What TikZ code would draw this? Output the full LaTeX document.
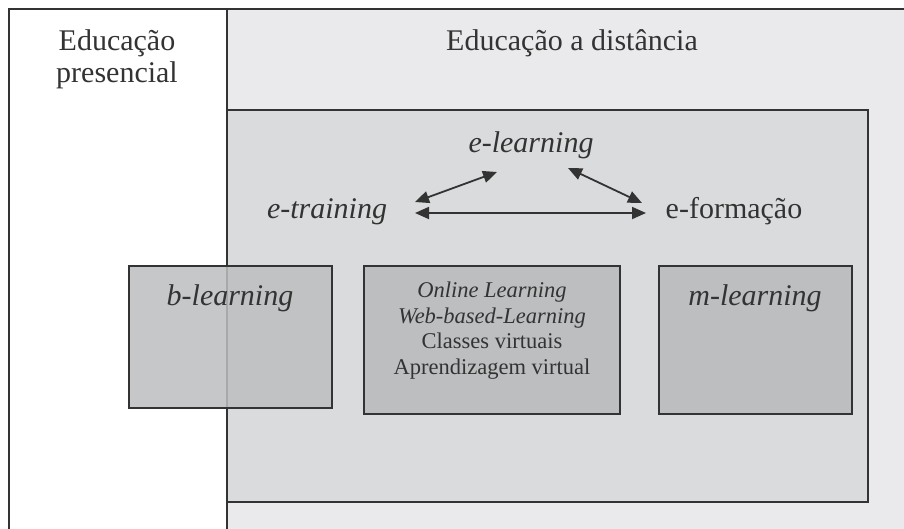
\documentclass[tikz,border=0pt]{standalone}
\usepackage{fontspec}
\setmainfont{Liberation Serif}
\usetikzlibrary{arrows.meta}
\definecolor{lightbg}{HTML}{EAEAEC}
\definecolor{midbg}{HTML}{DADBDD}
\definecolor{boxbg}{HTML}{BDBEC0}
\definecolor{ink}{HTML}{333333}
\begin{document}
\begin{tikzpicture}[x=1pt,y=-1pt,
  frame/.style={draw=ink, line width=1.8pt},
  regionbox/.style={frame, fill=midbg, inner sep=0pt},
  topicbox/.style={frame, fill=boxbg, inner sep=0pt, minimum width=201pt, minimum height=142pt},
  bigtext/.style={text=ink, font=\fontsize{30}{32}\selectfont, inner sep=0pt, anchor=base},
  smalltext/.style={text=ink, font=\fontsize{22.5}{25.5}\selectfont, inner sep=0pt, align=center},
  arr/.style={draw=ink, line width=1.8pt, {Triangle[length=14pt,width=12pt]}-{Triangle[length=14pt,width=12pt]}}
]
\useasboundingbox (0,0) rectangle (904,528);
\clip (0,0) rectangle (904,528);
\fill[white] (0,0) rectangle (904,528);
\fill[lightbg] (227,9) rectangle (912,536);
\draw[frame] (9,536) -- (9,9) -- (912,9);
\draw[frame] (227,9) -- (227,536);

\node[regionbox, minimum width=641pt, minimum height=392pt] (inner) at (547.5,306) {};

% labels of the two areas
\node[bigtext, align=center] (pres) at (117,82) {Educação\\presencial};
\node[bigtext] (dist) at (572,50) {Educação a distância};

% e-terms
\node[bigtext] (el) at (531,152) {\itshape e-learning};
\node[bigtext] (et) at (327,218) {\itshape e-training};
\node[bigtext] (ef) at (734,218) {e-formação};

\coordinate (a1) at (415,202);
\coordinate (a2) at (497,172);
\coordinate (a3) at (568,168);
\coordinate (a4) at (642,203);
\coordinate (a5) at (415,213);
\coordinate (a6) at (646,213);
\draw[arr] (a1) -- (a2);
\draw[arr] (a3) -- (a4);
\draw[arr] (a5) -- (a6);

% boxes
\node[topicbox, fill opacity=0.85, minimum width=203pt] (bl) at (230.5,337) {};
\node[topicbox, minimum width=256pt, minimum height=148pt] (ol) at (492,340) {};
\node[topicbox, minimum width=193pt, minimum height=148pt] (ml) at (755.5,340) {};

\node[bigtext] (blt) at (230,305) {\itshape b-learning};
\node[bigtext] (mlt) at (755,305) {\itshape m-learning};
\node[smalltext, anchor=base] (olt) at (492,374)
  {\itshape Online Learning\\ \itshape Web-based-Learning\\ Classes virtuais\\ Aprendizagem virtual};
\end{tikzpicture}
\end{document}
